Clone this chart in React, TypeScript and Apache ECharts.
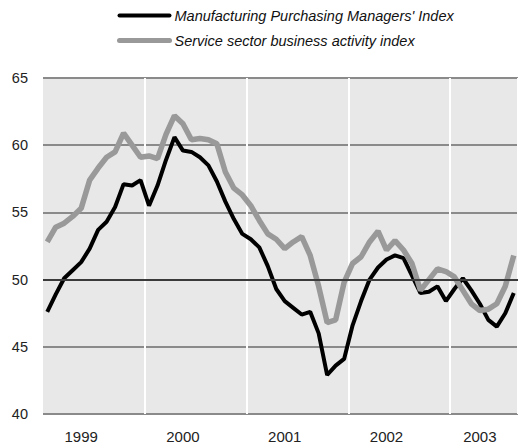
import React, { useEffect, useRef } from "react";
import * as echarts from "echarts";

// Monthly observations, Jan 1999 – Aug 2003
const years = ["1999", "2000", "2001", "2002", "2003"];
const months = ["01", "02", "03", "04", "05", "06", "07", "08", "09", "10", "11", "12"];

const manufacturing = [
  47.6, 48.9, 50.1, 50.7, 51.3, 52.3, 53.7, 54.3, 55.4, 57.1, 57.0, 57.4,
  55.5, 57.0, 58.9, 60.6, 59.6, 59.5, 59.1, 58.5, 57.3, 55.8, 54.5, 53.4,
  53.0, 52.4, 51.0, 49.3, 48.4, 47.9, 47.4, 47.6, 46.0, 42.9, 43.6, 44.1,
  46.6, 48.4, 50.0, 50.9, 51.5, 51.8, 51.6, 50.3, 49.0, 49.1, 49.5, 48.4,
  49.3, 50.1, 49.2, 48.2, 47.0, 46.5, 47.5, 49.0,
];

const services = [
  52.8, 53.9, 54.2, 54.7, 55.3, 57.4, 58.3, 59.1, 59.5, 60.9, 60.0, 59.1,
  59.2, 59.0, 60.8, 62.2, 61.6, 60.4, 60.5, 60.4, 60.1, 58.0, 56.8, 56.3,
  55.5, 54.4, 53.4, 53.0, 52.3, 52.8, 53.2, 51.8, 49.5, 46.8, 47.0, 49.8,
  51.2, 51.7, 52.8, 53.6, 52.2, 52.9, 52.2, 51.2, 49.2, 50.0, 50.8, 50.6,
  50.2, 49.2, 48.2, 47.7, 47.8, 48.2, 49.5, 51.8,
];

const seriesNames = [
  "Manufacturing Purchasing Managers' Index",
  "Service sector business activity index",
];

// month (within year) at which each year's label sits
const yearLabelMonth = ["05", "05", "05", "05", "04"];

const categories: string[] = [];
years.forEach((y) => months.forEach((m) => categories.push(`${y}-${m}`)));
categories.length = manufacturing.length;

const labelCats = years.map((y, i) => `${y}-${yearLabelMonth[i]}`);

const FONT = "'Liberation Sans', Arial, sans-serif";
const BLACK = "#000000";
const GREY = "#999999";

export default function App() {
  const ref = useRef<HTMLDivElement>(null);
  useEffect(() => {
    if (!ref.current) return;
    const chart = echarts.init(ref.current, undefined, { renderer: "svg" });
    chart.setOption({
      animation: false,
      legend: {
        data: [
          { name: seriesNames[0], lineStyle: { width: 4, color: BLACK, cap: "round" } },
          { name: seriesNames[1], lineStyle: { width: 5, color: GREY, cap: "round" } },
        ],
        orient: "vertical",
        left: 117,
        top: 8,
        padding: 0,
        itemWidth: 50,
        itemHeight: 14,
        itemGap: 10,
        itemStyle: { opacity: 0 },
        textStyle: { fontFamily: FONT, fontStyle: "italic", fontSize: 14.5, color: "#111" },
      },
      grid: {
        left: 43,
        right: 0,
        top: 78,
        bottom: 30,
        show: true,
        backgroundColor: "#e8e8e8",
        borderWidth: 0,
      },
      xAxis: {
        type: "category",
        data: categories,
        boundaryGap: true,
        z: 1,
        axisLine: { show: false },
        axisTick: { show: false },
        axisLabel: {
          interval: (_i: number, v: string) => labelCats.includes(v),
          formatter: (v: string) => v.slice(0, 4),
          margin: 15,
          fontSize: 15,
          color: "#222",
          fontFamily: FONT,
        },
        splitLine: {
          show: true,
          interval: (i: number) => i > 0 && i % 12 === 0,
          lineStyle: { color: "#ffffff", width: 2 },
        },
      },
      yAxis: {
        type: "value",
        min: 40,
        max: 65,
        interval: 5,
        z: 0,
        axisLine: { show: false },
        axisTick: { show: false },
        axisLabel: { margin: 15, fontSize: 14.5, color: "#222", fontFamily: FONT },
        splitLine: { lineStyle: { color: "#8a8a8a", width: 2 } },
      },
      series: [
        {
          name: "ref50",
          type: "line",
          data: [],
          z: 1,
          silent: true,
          markLine: {
            silent: true,
            symbol: "none",
            label: { show: false },
            lineStyle: { color: "#3a3a3a", width: 2, type: "solid" },
            data: [{ yAxis: 50 }],
          },
        },
        {
          name: seriesNames[0],
          type: "line",
          data: manufacturing,
          symbol: "none",
          z: 2,
          lineStyle: { color: BLACK, width: 4 },
          itemStyle: { color: BLACK },
        },
        {
          name: seriesNames[1],
          type: "line",
          data: services,
          symbol: "none",
          z: 3,
          lineStyle: { color: GREY, width: 5.5 },
          itemStyle: { color: GREY },
        },
      ],
    });
    return () => chart.dispose();
  }, []);
  return (
    <div
      ref={ref}
      style={{ position: "absolute", left: 0, top: 0, width: 518, height: 444 }}
    />
  );
}
